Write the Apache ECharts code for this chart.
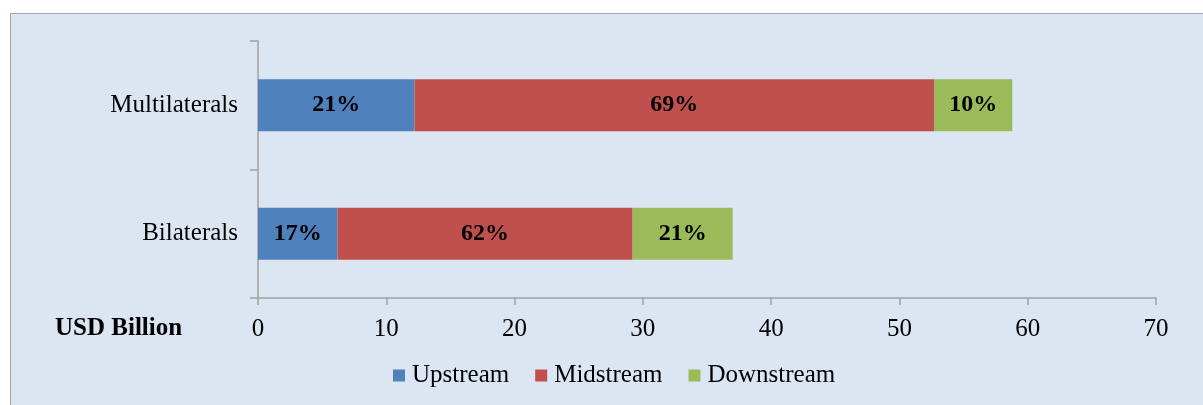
<!DOCTYPE html>
<html>
<head>
<meta charset="utf-8">
<script src="https://cdn.jsdelivr.net/npm/echarts@6/dist/echarts.min.js"></script>
<style>
  html, body { margin: 0; padding: 0; background: #fff; overflow: hidden; }
  #box {
    position: absolute; left: 10px; top: 13px; width: 1220px; height: 420px;
    background: #dce6f2; border: 1px solid #a6a6a6; box-sizing: border-box;
  }
  #chart { position: absolute; left: 0; top: 0; width: 1203px; height: 405px; }
</style>
</head>
<body>
<div id="box"></div>
<div id="chart"></div>
<script>
// funders, bottom to top
const categories = ['Bilaterals', 'Multilaterals'];
const seriesNames = ['Upstream', 'Midstream', 'Downstream'];
const colors = ['#4f81bd', '#c0504d', '#9bbb59'];

// USD billion
const upstream = [6.2, 12.2];
const midstream = [23.0, 40.5];
const downstream = [7.8, 6.1];

// shares printed on each segment
const upstreamPct = ['17%', '21%'];
const midstreamPct = ['62%', '69%'];
const downstreamPct = ['21%', '10%'];

const xTicks = [0, 70, 10]; // min, max, step

const font = '"Liberation Serif", "Times New Roman", serif';
const chart = echarts.init(document.getElementById('chart'));

function makeSeries (name, values, pct, color) {
  return {
    name: name,
    type: 'bar',
    stack: 'total',
    data: values,
    barWidth: 52,
    itemStyle: { color: color },
    label: {
      show: true,
      formatter: (p) => pct[p.dataIndex],
      color: '#000',
      fontFamily: font,
      fontWeight: 'bold',
      fontSize: 24,
      padding: [4, 0, 0, 0],
    },
  };
}

chart.setOption({
  animation: false,
  backgroundColor: 'transparent',
  textStyle: { fontFamily: font },
  grid: { left: 258, right: 47, top: 41, bottom: 107, containLabel: false },
  legend: {
    data: seriesNames,
    bottom: 12,
    left: 388,
    itemWidth: 12,
    itemHeight: 12,
    itemGap: 26,
    icon: 'rect',
    textStyle: { fontFamily: font, fontSize: 25, color: '#000', padding: [0, 0, 0, 2] },
  },
  xAxis: {
    type: 'value',
    min: xTicks[0],
    max: xTicks[1],
    interval: xTicks[2],
    splitLine: { show: false },
    axisLine: { show: true, lineStyle: { color: '#a0a0a0', width: 1.5 } },
    axisTick: { show: true, length: 7, lineStyle: { color: '#a0a0a0', width: 1.5 } },
    axisLabel: { color: '#000', fontFamily: font, fontSize: 25, margin: 19 },
  },
  yAxis: {
    type: 'category',
    data: categories,
    axisLine: { show: true, lineStyle: { color: '#a0a0a0', width: 1.5 } },
    axisTick: { show: true, length: 8, lineStyle: { color: '#a0a0a0', width: 1.5 } },
    axisLabel: { color: '#000', fontFamily: font, fontSize: 25, margin: 20, padding: [4, 0, 0, 0] },
  },
  graphic: [{
    type: 'text',
    left: 55,
    top: 316,
    style: { text: 'USD Billion', fontFamily: font, fontSize: 25, fontWeight: 'bold', fill: '#000' },
  }],
  series: [
    makeSeries(seriesNames[0], upstream, upstreamPct, colors[0]),
    makeSeries(seriesNames[1], midstream, midstreamPct, colors[1]),
    makeSeries(seriesNames[2], downstream, downstreamPct, colors[2]),
  ],
});
</script>
</body>
</html>
